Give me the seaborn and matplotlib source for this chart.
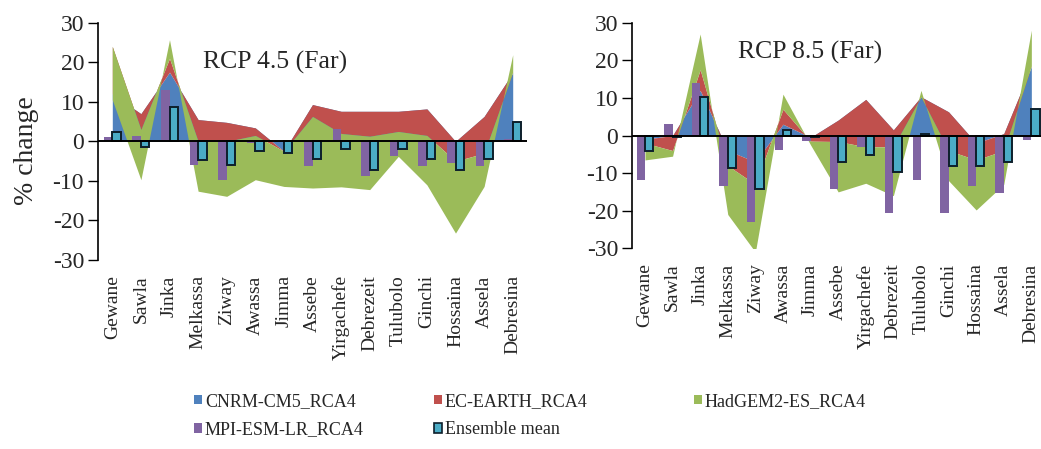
import matplotlib
matplotlib.use("Agg")
import matplotlib.pyplot as plt
import numpy as np
import pandas as pd
import seaborn as sns
from matplotlib.patches import Patch

# ---------------------------------------------------------------- data
stations = ["Gewane", "Sawla", "Jinka", "Melkassa", "Ziway", "Awassa", "Jimma",
            "Assebe", "Yirgachefe", "Debrezeit", "Tulubolo", "Ginchi",
            "Hossaina", "Assela", "Debresina"]

model_names = ["CNRM-CM5_RCA4", "EC-EARTH_RCA4", "HadGEM2-ES_RCA4",
               "MPI-ESM-LR_RCA4", "Ensemble mean"]

# RCP 4.5, far future (% change)
cnrm_45 = [12.0, 7.0, 17.5, 5.5, 4.8, 3.4, -2.5, 9.3, 7.6, 7.6, 7.6, 8.2, 0.0, 6.3, 17.3]
ecearth_45 = [12.0, -4.0, 3.5, -5.5, -4.8, -1.9, 0.0, -3.0, -5.6, -6.3, -5.1, -6.7, -5.0, -9.3, 0.2]
hadgem_45 = [-13.5, -12.7, 4.7, -12.6, -13.9, -11.2, -8.9, -18.1, -13.5, -13.5, -6.3, -12.5, -18.2, -8.4, 4.4]
mpi_45 = [1.1, 1.3, 13.0, -5.9, -9.7, -0.3, -0.2, -6.3, 3.0, -8.7, -3.8, -6.2, -5.5, -6.2, 0.5]
ens_45 = [2.4, -1.5, 8.7, -4.6, -6.1, -2.5, -2.9, -4.4, -1.9, -7.2, -1.9, -4.4, -7.2, -4.4, 4.8]

# RCP 8.5, far future (% change)
cnrm_85 = [-1.0, 0.0, 12.0, -4.0, -7.0, 3.0, -0.5, 4.1, 9.6, 1.5, 10.3, 6.3, -2.0, 0.5, 18.3]
ecearth_85 = [-1.0, -4.0, 5.5, -4.0, -6.0, 4.0, -1.0, -5.7, -12.6, -4.5, 0.0, -10.3, -4.5, -4.5, 0.2]
hadgem_85 = [-4.5, -1.5, 9.5, -13.0, -18.0, 4.0, -1.0, -13.4, -9.7, -13.0, 1.7, -8.0, -13.3, -9.0, 9.5]
mpi_85 = [-11.8, 3.1, 14.0, -13.3, -23.1, -3.9, -1.5, -14.3, -3.0, -20.7, -11.8, -20.7, -13.3, -15.2, -1.2]
ens_85 = [-4.1, -0.5, 10.3, -8.7, -14.2, 1.5, -0.3, -7.1, -5.2, -9.6, 0.3, -8.0, -8.0, -7.1, 7.0]

# ---------------------------------------------------------------- style
C_BLUE = "#4F81BD"
C_RED = "#C0504D"
C_GREEN = "#9BBB59"
C_PURPLE = "#8064A2"
C_TEAL = "#4BACC6"
C_EDGE = "#0d1f2b"

sns.set_style("white")
plt.rcParams["font.family"] = ["Liberation Serif", "DejaVu Serif"]
plt.rcParams["axes.unicode_minus"] = False

fig = plt.figure(figsize=(10.41, 4.49), dpi=100)
W, H = 1041.0, 449.0


def px_axes(x0, x1, y_top, y_bot):
    return fig.add_axes([x0 / W, 1 - y_bot / H, (x1 - x0) / W, (y_bot - y_top) / H])


def draw_panel(ax, cnrm, ec, had, mpi, ens, title, title_xy, xlim, labelpad):
    x = np.arange(len(stations))
    # bars: MPI and ensemble mean side by side per station
    df = pd.DataFrame({
        "station": stations * 2,
        "series": ["MPI-ESM-LR_RCA4"] * len(stations) + ["Ensemble mean"] * len(stations),
        "value": list(mpi) + list(ens),
    })
    sns.barplot(data=df, x="station", y="value", hue="series",
                hue_order=["MPI-ESM-LR_RCA4", "Ensemble mean"],
                palette=[C_PURPLE, C_TEAL], width=0.6, dodge=True,
                saturation=1, errorbar=None, legend=False, ax=ax)
    for bar in ax.containers[0]:
        bar.set_linewidth(0)
        bar.set_zorder(2)
    for bar in ax.containers[1]:
        bar.set_edgecolor(C_EDGE)
        bar.set_linewidth(1.4)
        bar.set_zorder(2)

    # stacked model areas
    ax.stackplot(x, cnrm, ec, had, colors=[C_BLUE, C_RED, C_GREEN],
                 linewidth=0, zorder=1)

    ax.axhline(0, color="black", lw=1.4, zorder=3)
    ax.set_xlim(*xlim)
    ax.set_ylim(-30, 30)
    ax.set_yticks([-30, -20, -10, 0, 10, 20, 30])
    ax.set_xticks(x)
    ax.set_xticklabels(stations, rotation=90, ha="center", va="top", fontsize=14)
    ax.tick_params(axis="x", length=0, pad=labelpad)
    ax.tick_params(axis="y", direction="out", length=7, width=1.0, pad=3,
                   labelsize=17, left=True, color="black")
    ax.set_xlabel("")
    ax.set_ylabel("")
    for side in ["top", "right", "bottom"]:
        ax.spines[side].set_visible(False)
    ax.spines["left"].set_color("black")
    ax.spines["left"].set_linewidth(1.2)
    ax.text(title_xy[0], title_xy[1], title, transform=ax.transAxes,
            ha="center", va="center", fontsize=18.5)


ax1 = px_axes(98, 527, 22.7, 260)
draw_panel(ax1, cnrm_45, ecearth_45, hadgem_45, mpi_45, ens_45,
           "RCP 4.5 (Far)", (0.413, 0.834), (-0.5, 14.5), 11)
ax1.set_ylabel("% change", fontsize=20)
ax1.yaxis.set_label_coords(-0.138, 0.46)

ax2 = px_axes(632, 1041, 22.7, 248.3)
draw_panel(ax2, cnrm_85, ecearth_85, hadgem_85, mpi_85, ens_85,
           "RCP 8.5 (Far)", (0.435, 0.87), (-0.47, 14.35), 11)

# legend below both panels, one block per column
colors = dict(zip(model_names, [C_BLUE, C_RED, C_GREEN, C_PURPLE, C_TEAL]))


def handle(name):
    if name == "Ensemble mean":
        return Patch(facecolor=colors[name], edgecolor=C_EDGE, linewidth=1.2)
    return Patch(facecolor=colors[name], edgecolor=colors[name], linewidth=0)


columns = [(194, ["CNRM-CM5_RCA4", "MPI-ESM-LR_RCA4"]),
           (434, ["EC-EARTH_RCA4", "Ensemble mean"]),
           (694, ["HadGEM2-ES_RCA4"])]
for x0, names in columns:
    fig.legend([handle(n) for n in names], names, ncol=1, frameon=False,
               loc="upper left", bbox_to_anchor=(x0 / W, 1 - 393 / H),
               fontsize=13, handlelength=0.45, handleheight=0.45,
               handletextpad=0.15, labelspacing=0.62, borderpad=0,
               borderaxespad=0)

fig.savefig("out.png", dpi=100)
